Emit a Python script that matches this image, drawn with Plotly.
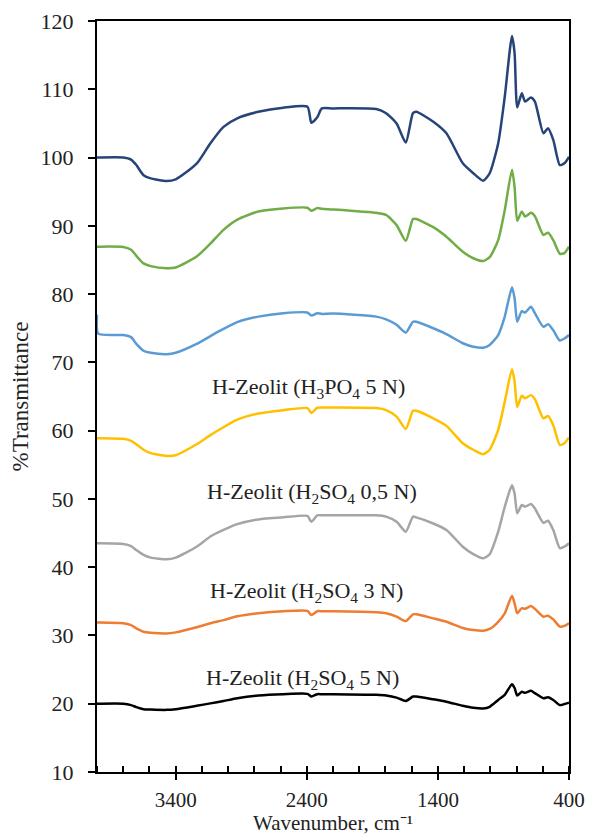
import plotly.graph_objects as go

wavenumber = [4000, 3990, 3800, 3740, 3700, 3645, 3590, 3470, 3400, 3240,
              3135, 3035, 2930, 2770, 2580, 2395, 2365, 2320, 2285, 2200,
              1870, 1795, 1715, 1645, 1590, 1565, 1435, 1335, 1210, 1130,
              1055, 1005, 940, 890, 835, 815, 795, 760, 735, 690,
              660, 595, 560, 520, 470, 435, 400]

s_darkblue = [100.0, 100.0, 100.0, 99.7, 98.9, 97.4, 96.95, 96.56, 96.8, 99.1,
              102.1, 104.5, 105.75, 106.7, 107.3, 107.45, 105.1, 105.9, 107.2, 107.2,
              107.1, 106.5, 105.0, 102.2, 106.5, 106.7, 105.25, 103.55, 99.15, 97.7,
              96.6, 97.7, 102.1, 108.9, 117.8, 115.3, 107.35, 109.4, 108.2, 108.8,
              108.2, 103.55, 104.3, 102.6, 98.9, 99.15, 100.1]

s_green = [86.95, 86.95, 86.9, 86.5, 85.6, 84.5, 84.1, 83.8, 83.9, 85.5,
           87.4, 89.4, 90.9, 92.1, 92.55, 92.65, 92.2, 92.6, 92.5, 92.4,
           91.9, 91.6, 90.1, 87.8, 91.0, 91.0, 89.8, 88.4, 86.2, 85.25,
           84.85, 85.4, 87.9, 92.3, 98.2, 95.7, 90.75, 92.1, 91.35, 91.9,
           91.4, 88.65, 89.0, 87.9, 85.9, 86.0, 86.95]

s_lightblue = [77.0, 74.2, 74.0, 73.7, 72.7, 71.7, 71.4, 71.2, 71.4, 72.7,
               73.85, 74.9, 75.9, 76.7, 77.2, 77.3, 76.85, 77.2, 77.1, 77.15,
               76.7, 76.3, 75.5, 74.35, 75.95, 75.95, 75.0, 74.15, 72.8, 72.3,
               72.15, 72.55, 74.0, 76.7, 81.0, 79.4, 75.95, 77.5, 77.3, 78.15,
               77.2, 75.2, 75.6, 74.7, 73.2, 73.5, 74.0]

s_gold = [58.9, 58.9, 58.8, 58.5, 58.0, 57.2, 56.7, 56.3, 56.4, 58.0,
          59.35, 60.5, 61.6, 62.5, 63.0, 63.3, 62.6, 63.35, 63.4, 63.4,
          63.3, 63.0, 62.05, 60.25, 62.9, 62.9, 61.8, 60.7, 58.15, 57.2,
          56.55, 57.2, 60.1, 64.25, 69.0, 67.2, 63.5, 65.1, 64.75, 65.2,
          64.6, 61.8, 62.15, 60.8, 57.9, 58.15, 59.0]

s_gray = [43.5, 43.5, 43.4, 43.1, 42.5, 41.8, 41.4, 41.15, 41.4, 43.0,
          44.5, 45.45, 46.3, 47.0, 47.3, 47.5, 46.65, 47.6, 47.6, 47.6,
          47.6, 47.4, 46.65, 45.2, 47.4, 47.3, 46.4, 45.45, 43.0, 41.9,
          41.3, 41.9, 45.2, 48.85, 52.0, 50.8, 47.9, 49.1, 48.85, 49.25,
          48.6, 46.5, 46.8, 45.45, 42.8, 43.0, 43.5]

s_orange = [31.9, 31.9, 31.8, 31.5, 31.05, 30.55, 30.4, 30.3, 30.45, 31.2,
            31.8, 32.25, 32.8, 33.25, 33.55, 33.6, 33.0, 33.55, 33.55, 33.55,
            33.4, 33.25, 32.75, 32.1, 33.1, 33.1, 32.5, 32.0, 31.1, 30.8,
            30.7, 30.95, 32.0, 33.25, 35.8, 34.7, 33.25, 34.0, 33.9, 34.3,
            33.9, 32.75, 32.9, 32.35, 31.3, 31.4, 31.8]

s_black = [20.0, 20.0, 20.0, 19.8, 19.5, 19.2, 19.15, 19.1, 19.2, 19.7,
           20.05, 20.4, 20.8, 21.2, 21.4, 21.45, 21.05, 21.4, 21.4, 21.4,
           21.3, 21.2, 20.9, 20.4, 21.05, 21.05, 20.65, 20.3, 19.7, 19.4,
           19.3, 19.55, 20.55, 21.3, 22.85, 22.3, 21.2, 21.75, 21.6, 21.9,
           21.55, 20.8, 20.95, 20.55, 19.8, 19.95, 20.15]

series = [s_darkblue, s_green, s_lightblue, s_gold, s_gray, s_orange, s_black]
colors = ["#264478", "#70AD47", "#5B9BD5", "#FFC000", "#A5A5A5", "#ED7D31", "#000000"]

label_texts = ["H-Zeolit (H<sub>3</sub>PO<sub>4</sub> 5 N)",
               "H-Zeolit (H<sub>2</sub>SO<sub>4</sub> 0,5 N)",
               "H-Zeolit (H<sub>2</sub>SO<sub>4</sub> 3 N)",
               "H-Zeolit (H<sub>2</sub>SO<sub>4</sub> 5 N)"]
label_x = [2390, 2360, 2400, 2430]
label_y = [66.2, 50.8, 36.4, 23.6]

x_ticks = [3400, 2400, 1400, 400]
x_title = "Wavenumber, cm\u207b\u00b9"
y_title = "%Transmittance"

FONT = "Liberation Serif"
TXT = "#222222"

fig = go.Figure()
for ys, c in zip(series, colors):
    fig.add_trace(go.Scatter(x=wavenumber, y=ys, mode="lines",
                             line=dict(color=c, width=2.5, shape="spline", smoothing=0.6),
                             showlegend=False, hoverinfo="skip"))
# empty trace carrying the overlay axis (inner half of the major x ticks)
fig.add_trace(go.Scatter(x=[], y=[], xaxis="x2", showlegend=False, hoverinfo="skip"))

for t, xv, yv in zip(label_texts, label_x, label_y):
    fig.add_annotation(x=xv, y=yv, text=t, showarrow=False,
                       font=dict(family=FONT, size=22, color=TXT),
                       xanchor="center", yanchor="middle")

# axis titles
fig.add_annotation(xref="paper", yref="paper", x=0.5, y=0, yshift=-65,
                   text=x_title, showarrow=False, xanchor="center", yanchor="bottom",
                   font=dict(family=FONT, size=21, color=TXT))
fig.add_annotation(xref="paper", yref="paper", x=0, y=0.5, xshift=-77,
                   text=y_title, showarrow=False, textangle=-90,
                   xanchor="center", yanchor="middle",
                   font=dict(family=FONT, size=23, color=TXT))

fig.update_layout(
    width=589, height=838,
    margin=dict(l=97, r=20, t=21, b=66, autoexpand=False),
    plot_bgcolor="white", paper_bgcolor="white",
    font=dict(family=FONT, size=22, color=TXT),
    xaxis=dict(range=[4000, 400], tickvals=x_ticks, ticks="outside", ticklen=6,
               tickwidth=2, tickcolor="black", ticklabelstandoff=2,
               automargin=False,
               showline=True, linecolor="black", linewidth=2, mirror=True,
               showgrid=False, zeroline=False,
               minor=dict(dtick=200, tick0=400, ticks="inside", ticklen=6,
                          tickwidth=1.5, tickcolor="black", showgrid=False),
               tickfont=dict(family=FONT, size=21, color=TXT)),
    xaxis2=dict(range=[4000, 400], overlaying="x", anchor="y", side="bottom",
                tickvals=x_ticks, ticks="inside", ticklen=6, tickwidth=2,
                tickcolor="black", showticklabels=False, showgrid=False,
                zeroline=False, showline=False, automargin=False),
    yaxis=dict(range=[10, 120], dtick=10, tick0=10, ticks="outside", ticklen=7,
               tickwidth=2, tickcolor="black", ticklabelstandoff=10,
               automargin=False,
               showline=True, linecolor="black", linewidth=2, mirror=True,
               showgrid=False, zeroline=False,
               tickfont=dict(family=FONT, size=22, color=TXT)),
)

fig.write_html("out.html", config={"displayModeBar": False},
               post_script="document.body.style.margin='0px';")
